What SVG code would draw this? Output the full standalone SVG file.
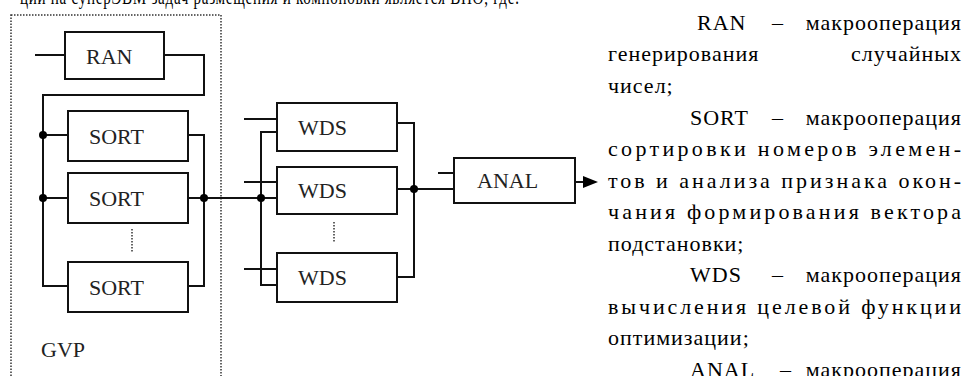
<svg xmlns="http://www.w3.org/2000/svg" width="976" height="376" viewBox="0 0 976 376">
<style>
.box{fill:#fff;stroke:#111;stroke-width:2}
.ln{fill:none;stroke:#111;stroke-width:2}
.dot{fill:#000}
.dash{fill:none;stroke:#333;stroke-width:1.5;stroke-dasharray:1.5 1.5}
text{font-family:"Liberation Serif","Times New Roman","Noto Serif","DejaVu Serif",FreeSerif,Tinos,Times,serif}
.lbl{font-size:22px;fill:#222}
.txt{font-size:22px;fill:#000;letter-spacing:1px}
</style>
<rect width="976" height="376" fill="#fff"/>
<text class="txt" x="20" y="4" textLength="500" lengthAdjust="spacingAndGlyphs">ции на суперЭВМ задач размещения и компоновки является ВПО, где:</text>
<rect id="GVP-frame" class="dash" x="11" y="15" width="210" height="380"/>
<g id="connectors">
<path class="ln" d="M35,55 H65"/>
<path class="ln" d="M164,55 H204 V95 H43 V286 H68"/>
<path class="ln" d="M43,135 H68 M43,198 H68"/>
<path class="ln" d="M188,135 H204 V286 H188"/>
<path class="ln" d="M188,198 H277"/>
<path class="ln" d="M244,119 H277 M244,182 H277 M244,269 H277"/>
<path class="ln" d="M277,132 H261 V285 H277"/>
<path class="ln" d="M397,123 H414 V277 H397"/>
<path class="ln" d="M397,189 H454 M438,173 H454"/>
<path class="ln" d="M575,182 H586"/>
<polygon points="583,176 598,182 583,188" fill="#000"/>
<circle class="dot" cx="43" cy="135" r="4"/>
<circle class="dot" cx="43" cy="198" r="4"/>
<circle class="dot" cx="204" cy="198" r="4"/>
<circle class="dot" cx="261" cy="198" r="4"/>
<circle class="dot" cx="414" cy="189" r="4"/>
<path class="dash" d="M132,229 V252 M334,222 V243"/>
</g>
<g id="RAN"><rect class="box" x="65" y="32" width="99" height="47"/><text class="lbl" x="86" y="64">RAN</text></g>
<g id="SORT1"><rect class="box" x="68" y="111" width="120" height="50"/><text class="lbl" x="89" y="144">SORT</text></g>
<g id="SORT2"><rect class="box" x="68" y="173" width="120" height="50"/><text class="lbl" x="89" y="206">SORT</text></g>
<g id="SORT3"><rect class="box" x="68" y="262" width="120" height="50"/><text class="lbl" x="89" y="295">SORT</text></g>
<g id="GVP"><text class="lbl" x="41" y="357">GVP</text></g>
<g id="WDS1"><rect class="box" x="277" y="103" width="120" height="48"/><text class="lbl" x="298" y="135">WDS</text></g>
<g id="WDS2"><rect class="box" x="277" y="167" width="120" height="47"/><text class="lbl" x="298" y="198">WDS</text></g>
<g id="WDS3"><rect class="box" x="277" y="253" width="120" height="49"/><text class="lbl" x="298" y="285">WDS</text></g>
<g id="ANAL"><rect class="box" x="454" y="158" width="121" height="45"/><text class="lbl" x="477" y="188">ANAL</text></g>
<g id="legend">
<text class="txt" x="697" y="30">RAN</text><text class="txt" x="772" y="30">–</text><text class="txt" x="962" y="30" text-anchor="end">макрооперация</text>
<text class="txt" x="608" y="61">генерирования</text><text class="txt" x="962" y="61" text-anchor="end">случайных</text>
<text class="txt" x="608" y="93">чисел;</text>
<text class="txt" x="690" y="125">SORT</text><text class="txt" x="772" y="125">–</text><text class="txt" x="962" y="125" text-anchor="end">макрооперация</text>
<text class="txt" x="608" y="156" textLength="354" lengthAdjust="spacing">сортировки номеров элемен-</text>
<text class="txt" x="608" y="188" textLength="354" lengthAdjust="spacing">тов и анализа признака окон-</text>
<text class="txt" x="608" y="219" textLength="354" lengthAdjust="spacing">чания формирования вектора</text>
<text class="txt" x="608" y="251">подстановки;</text>
<text class="txt" x="690" y="282">WDS</text><text class="txt" x="772" y="282">–</text><text class="txt" x="962" y="282" text-anchor="end">макрооперация</text>
<text class="txt" x="608" y="314" textLength="354" lengthAdjust="spacing">вычисления целевой функции</text>
<text class="txt" x="608" y="345">оптимизации;</text>
<text class="txt" x="690" y="377">ANAL</text><text class="txt" x="780" y="377">–</text><text class="txt" x="962" y="377" text-anchor="end">макрооперация</text>
</g>
</svg>
